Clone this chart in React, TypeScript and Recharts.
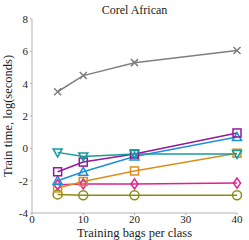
import { LineChart, Line, XAxis, YAxis, Label } from 'recharts';

const bags = [5, 10, 20, 40];
const grayX = [3.5, 4.5, 5.3, 6.05];
const tealTri = [-0.25, -0.5, -0.35, -0.35];
const purpleSq = [-1.45, -0.85, -0.35, 0.95];
const blueTri = [-2.0, -1.45, -0.5, 0.7];
const orangeSq = [-2.45, -2.05, -1.4, -0.3];
const pinkDia = [-2.25, -2.2, -2.2, -2.15];
const oliveCirc = [-2.85, -2.9, -2.9, -2.9];

const xTicks = [0, 10, 20, 30, 40];
const yTicks = [-4, -2, 0, 2, 4, 6, 8];

const data = bags.map((b, i) => ({
  bags: b,
  gray: grayX[i],
  teal: tealTri[i],
  purple: purpleSq[i],
  blue: blueTri[i],
  orange: orangeSq[i],
  pink: pinkDia[i],
  olive: oliveCirc[i],
}));

const font = '"Liberation Serif", "DejaVu Serif", serif';

function marker(shape: string, color: string) {
  return (props: any) => {
    const { cx, cy, index } = props;
    if (cx == null || cy == null) return <g key={index} />;
    const r = 4.5;
    const common = { fill: 'none', stroke: color, strokeWidth: 1.5 };
    switch (shape) {
      case 'x':
        return (
          <path key={index} d={`M${cx - 3.5},${cy - 3.5}L${cx + 3.5},${cy + 3.5}M${cx - 3.5},${cy + 3.5}L${cx + 3.5},${cy - 3.5}`} {...common} />
        );
      case 'sq':
        return <rect key={index} x={cx - 4} y={cy - 4} width={8} height={8} {...common} />;
      case 'down':
        return <path key={index} d={`M${cx - r},${cy - 3.5}L${cx + r},${cy - 3.5}L${cx},${cy + 4.5}Z`} {...common} />;
      case 'up':
        return <path key={index} d={`M${cx - r},${cy + 3.5}L${cx + r},${cy + 3.5}L${cx},${cy - 4.5}Z`} {...common} />;
      case 'dia':
        return <path key={index} d={`M${cx},${cy - 5}L${cx + 3.5},${cy}L${cx},${cy + 5}L${cx - 3.5},${cy}Z`} {...common} />;
      default:
        return <circle key={index} cx={cx} cy={cy} r={r} {...common} />;
    }
  };
}

const series = [
  { key: 'olive', color: '#8c8c14', shape: 'circ' },
  { key: 'pink', color: '#e0218e', shape: 'dia' },
  { key: 'orange', color: '#d98f1c', shape: 'sq' },
  { key: 'blue', color: '#1f8fd6', shape: 'up' },
  { key: 'purple', color: '#91199b', shape: 'sq' },
  { key: 'teal', color: '#199a9a', shape: 'down' },
  { key: 'gray', color: '#7f7f7f', shape: 'x' },
];

export default function App() {
  const tick = { fontSize: 11, fill: '#222', fontFamily: font };
  return (
    <div style={{ position: 'absolute', left: 0, top: 0, width: 249, height: 240, background: '#fff' }}>
      <div
        style={{
          position: 'absolute',
          left: 32,
          width: 205,
          top: 3,
          textAlign: 'center',
          fontFamily: font,
          fontSize: 12,
          lineHeight: '14px',
          color: '#222',
        }}
      >
        Corel African
      </div>
      <LineChart width={249} height={240} data={data} margin={{ top: 19, right: 12, bottom: 0, left: 0 }}>
        <XAxis
          dataKey="bags"
          type="number"
          domain={[0, 40]}
          ticks={xTicks}
          tick={tick}
          tickSize={2}
          tickMargin={0}
          height={27}
          stroke="#b3b3b3"
        >
          <Label value="Training bags per class" position="insideBottom" offset={3} style={{ fontSize: 12.5, fill: '#222', fontFamily: font }} />
        </XAxis>
        <YAxis
          type="number"
          domain={[-4, 8]}
          ticks={yTicks}
          tick={tick}
          tickSize={2}
          tickMargin={2}
          width={32}
          stroke="#b3b3b3"
        >
          <Label
            value="Train time, log(seconds)"
            angle={-90}
            position="insideLeft"
            offset={8}
            style={{ fontSize: 12.5, fill: '#222', fontFamily: font, textAnchor: 'middle' }}
          />
        </YAxis>
        {series.map((s) => (
          <Line
            key={s.key}
            dataKey={s.key}
            stroke={s.color}
            strokeWidth={1.5}
            dot={marker(s.shape, s.color)}
            activeDot={false}
            isAnimationActive={false}
          />
        ))}
      </LineChart>
    </div>
  );
}
